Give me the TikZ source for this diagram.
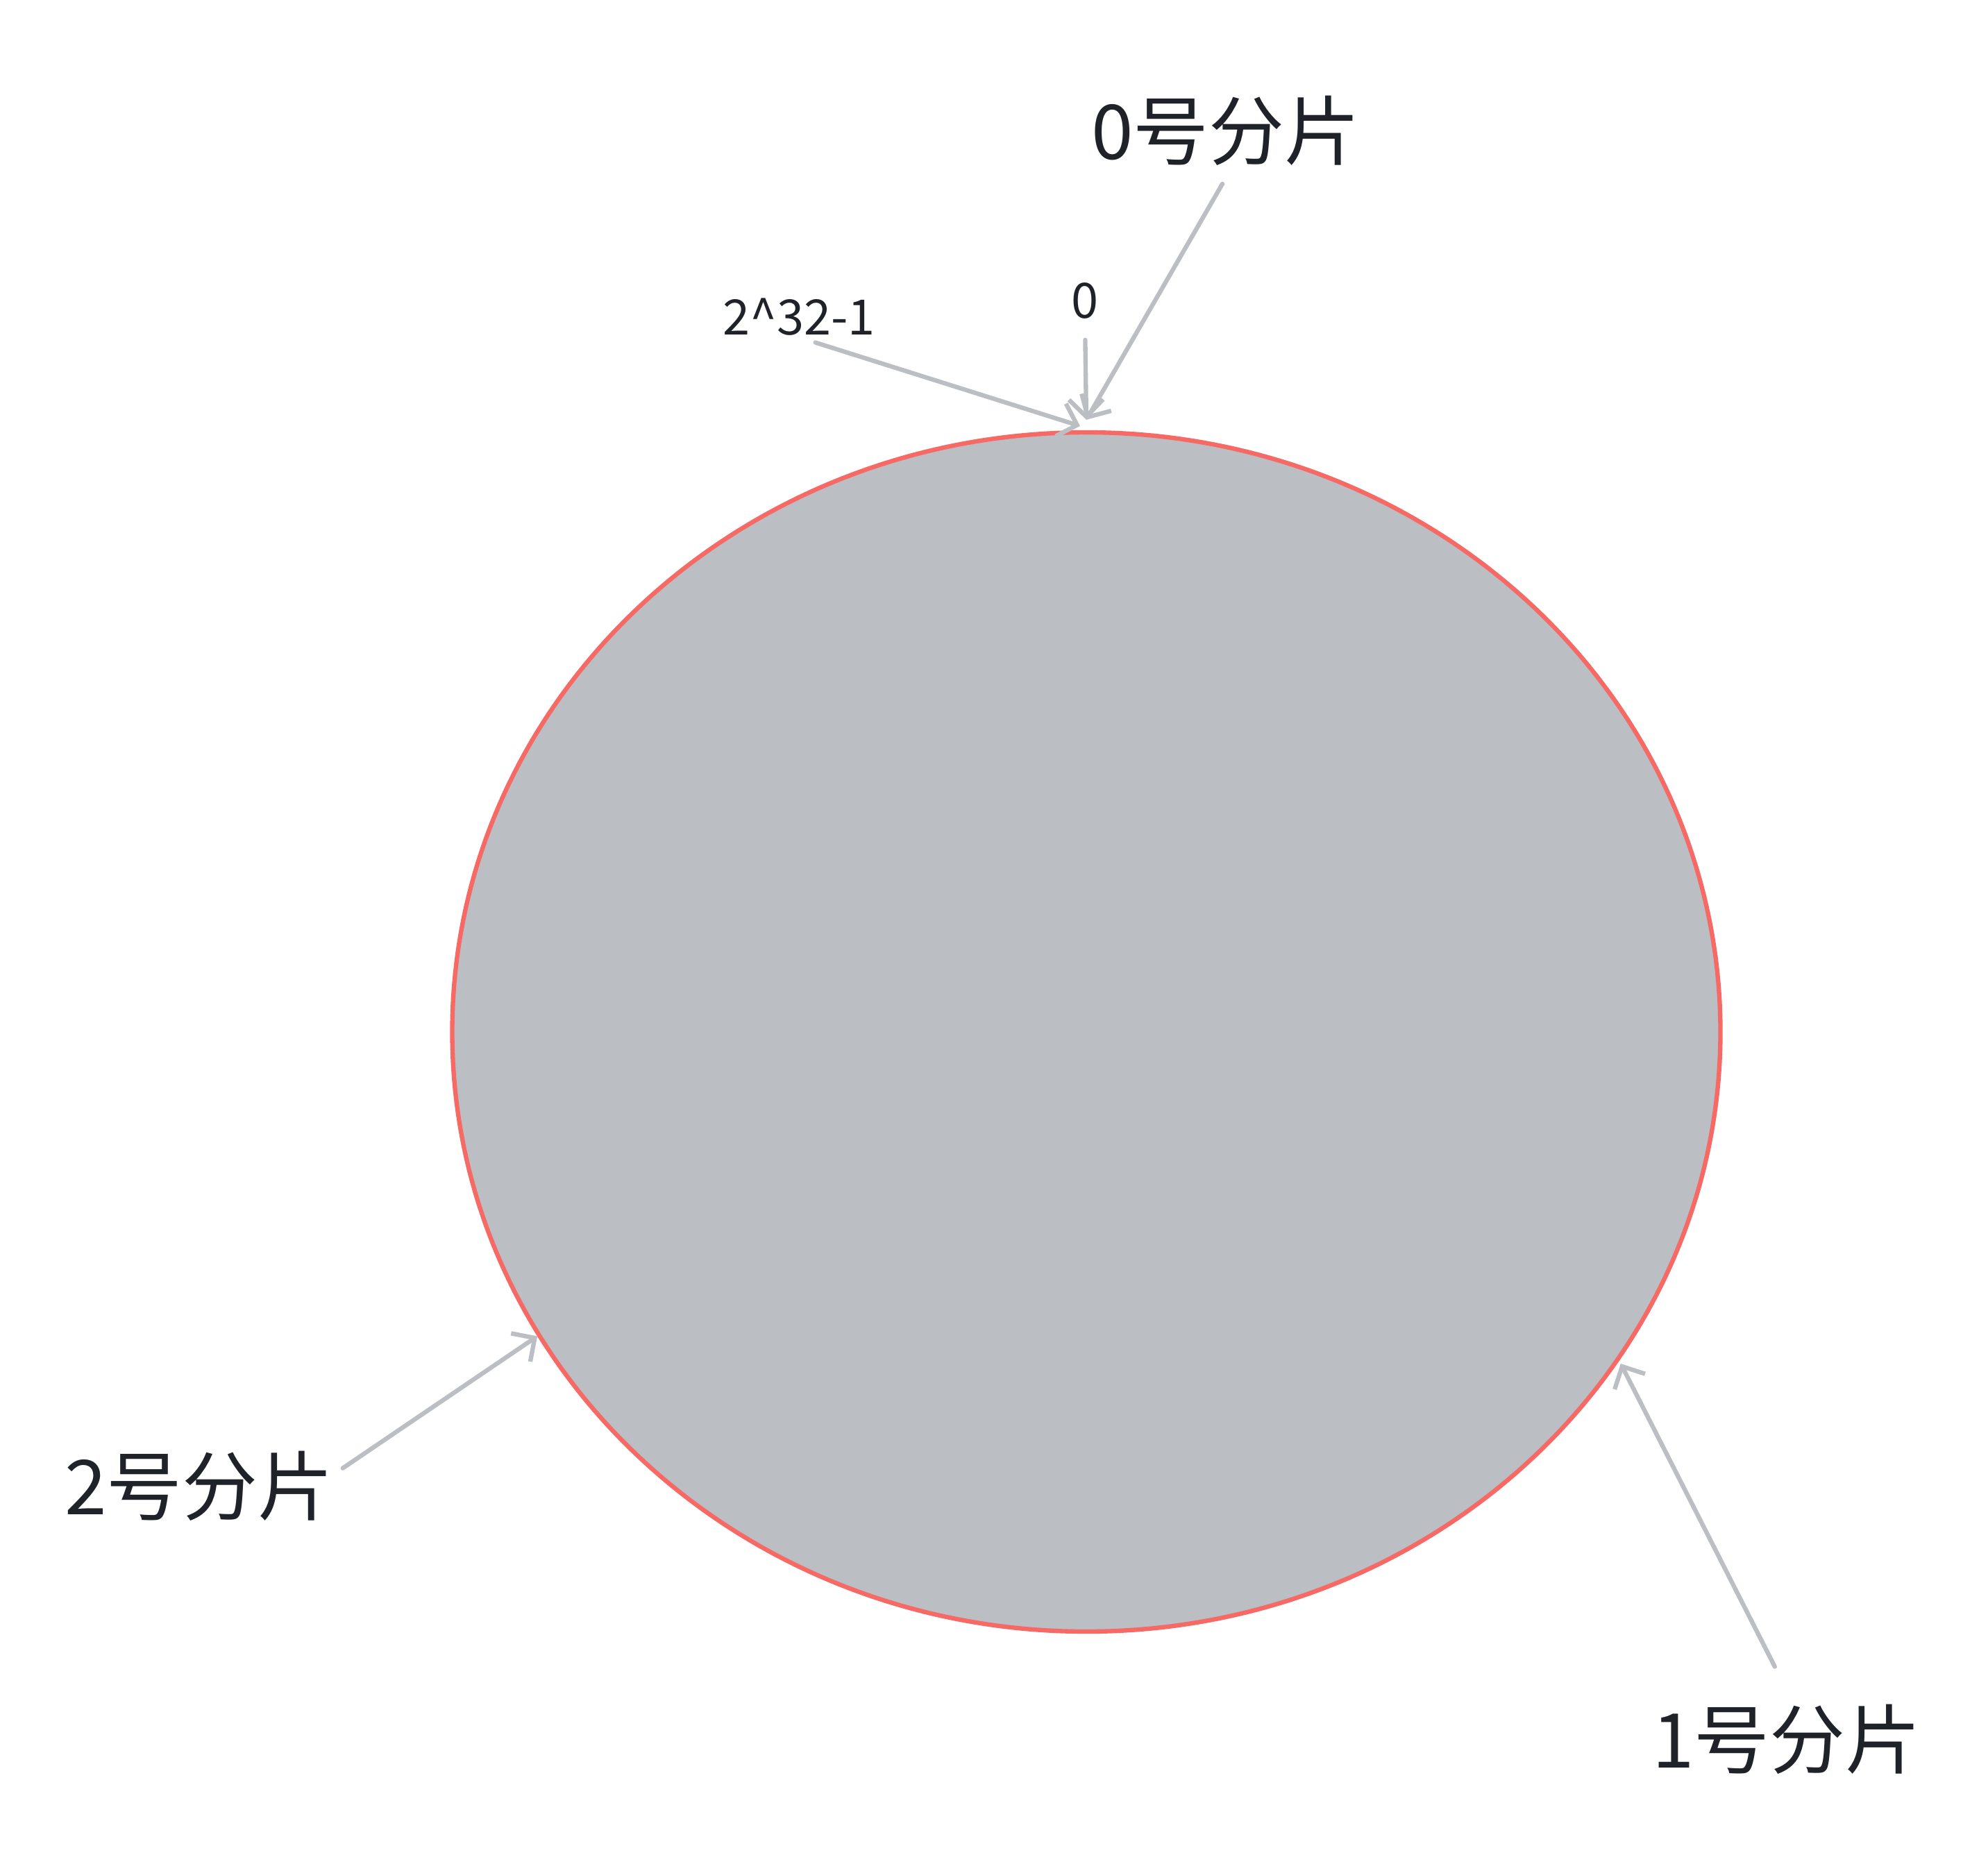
\documentclass[tikz,border=0pt]{standalone}
\usepackage{fontspec}
\newfontfamily\cjk{Noto Sans CJK SC}
\usepackage{tikz}
\usetikzlibrary{arrows.meta,shapes.geometric,positioning}
\definecolor{inkdark}{HTML}{1F2329}
\definecolor{ptrgray}{HTML}{BBBFC4}
\definecolor{ringgray}{HTML}{BBBEC3}
\definecolor{ringred}{HTML}{F76964}

\begin{document}
\begin{tikzpicture}[
	shardlabel/.style={font=\cjk\fontsize{31pt}{37pt}\selectfont, text=inkdark, inner sep=0pt},
	hashlabel/.style={font=\cjk\fontsize{20pt}{24pt}\selectfont, text=inkdark, inner sep=0pt},
	ptr/.style={draw=ptrgray, line width=1.8pt, line cap=round, -{Straight Barb[length=7pt,width=14pt,line width=1.8pt]}}]
	\useasboundingbox (0,0) rectangle (28.64,-26.72);
	% hash ring
	\node[ellipse, draw=ringred, fill=ringgray, line width=1.8pt, minimum width=18.27cm, minimum height=17.28cm, inner sep=0pt] (ring) at (15.65,-14.87) {};
	% labels
	\node[shardlabel] (shard0) at (17.66,-1.88) {0号分片};
	\node[hashlabel] (zero) at (15.63,-4.33) {0};
	\node[hashlabel] (wrap) at (11.51,-4.57) {2\textasciicircum32-1};
	\node[shardlabel] (shard2) at (2.87,-21.41) {2号分片};
	\node[shardlabel] (shard1) at (25.74,-25.06) {1号分片};
	% pointers
	\draw[ptr, shorten <=0.3cm] ([xshift=0.1cm]shard0.south) -- ([yshift=0.15cm]ring.north);
	\draw[ptr, shorten <=0.3cm] (zero.south) -- ([yshift=0.15cm]ring.north);
	\draw[ptr, shorten <=0.3cm] ([xshift=-0.05cm]wrap.south) -- ([xshift=-0.09cm,yshift=0.06cm]ring.north);
	\draw[ptr, shorten <=0.15cm] ([yshift=0.17cm]shard2.east) -- (ring.209);
	\draw[ptr, shorten <=0.6cm] ([xshift=0.1cm]shard1.north) -- ([xshift=0.05cm]ring.328);
\end{tikzpicture}
\end{document}
